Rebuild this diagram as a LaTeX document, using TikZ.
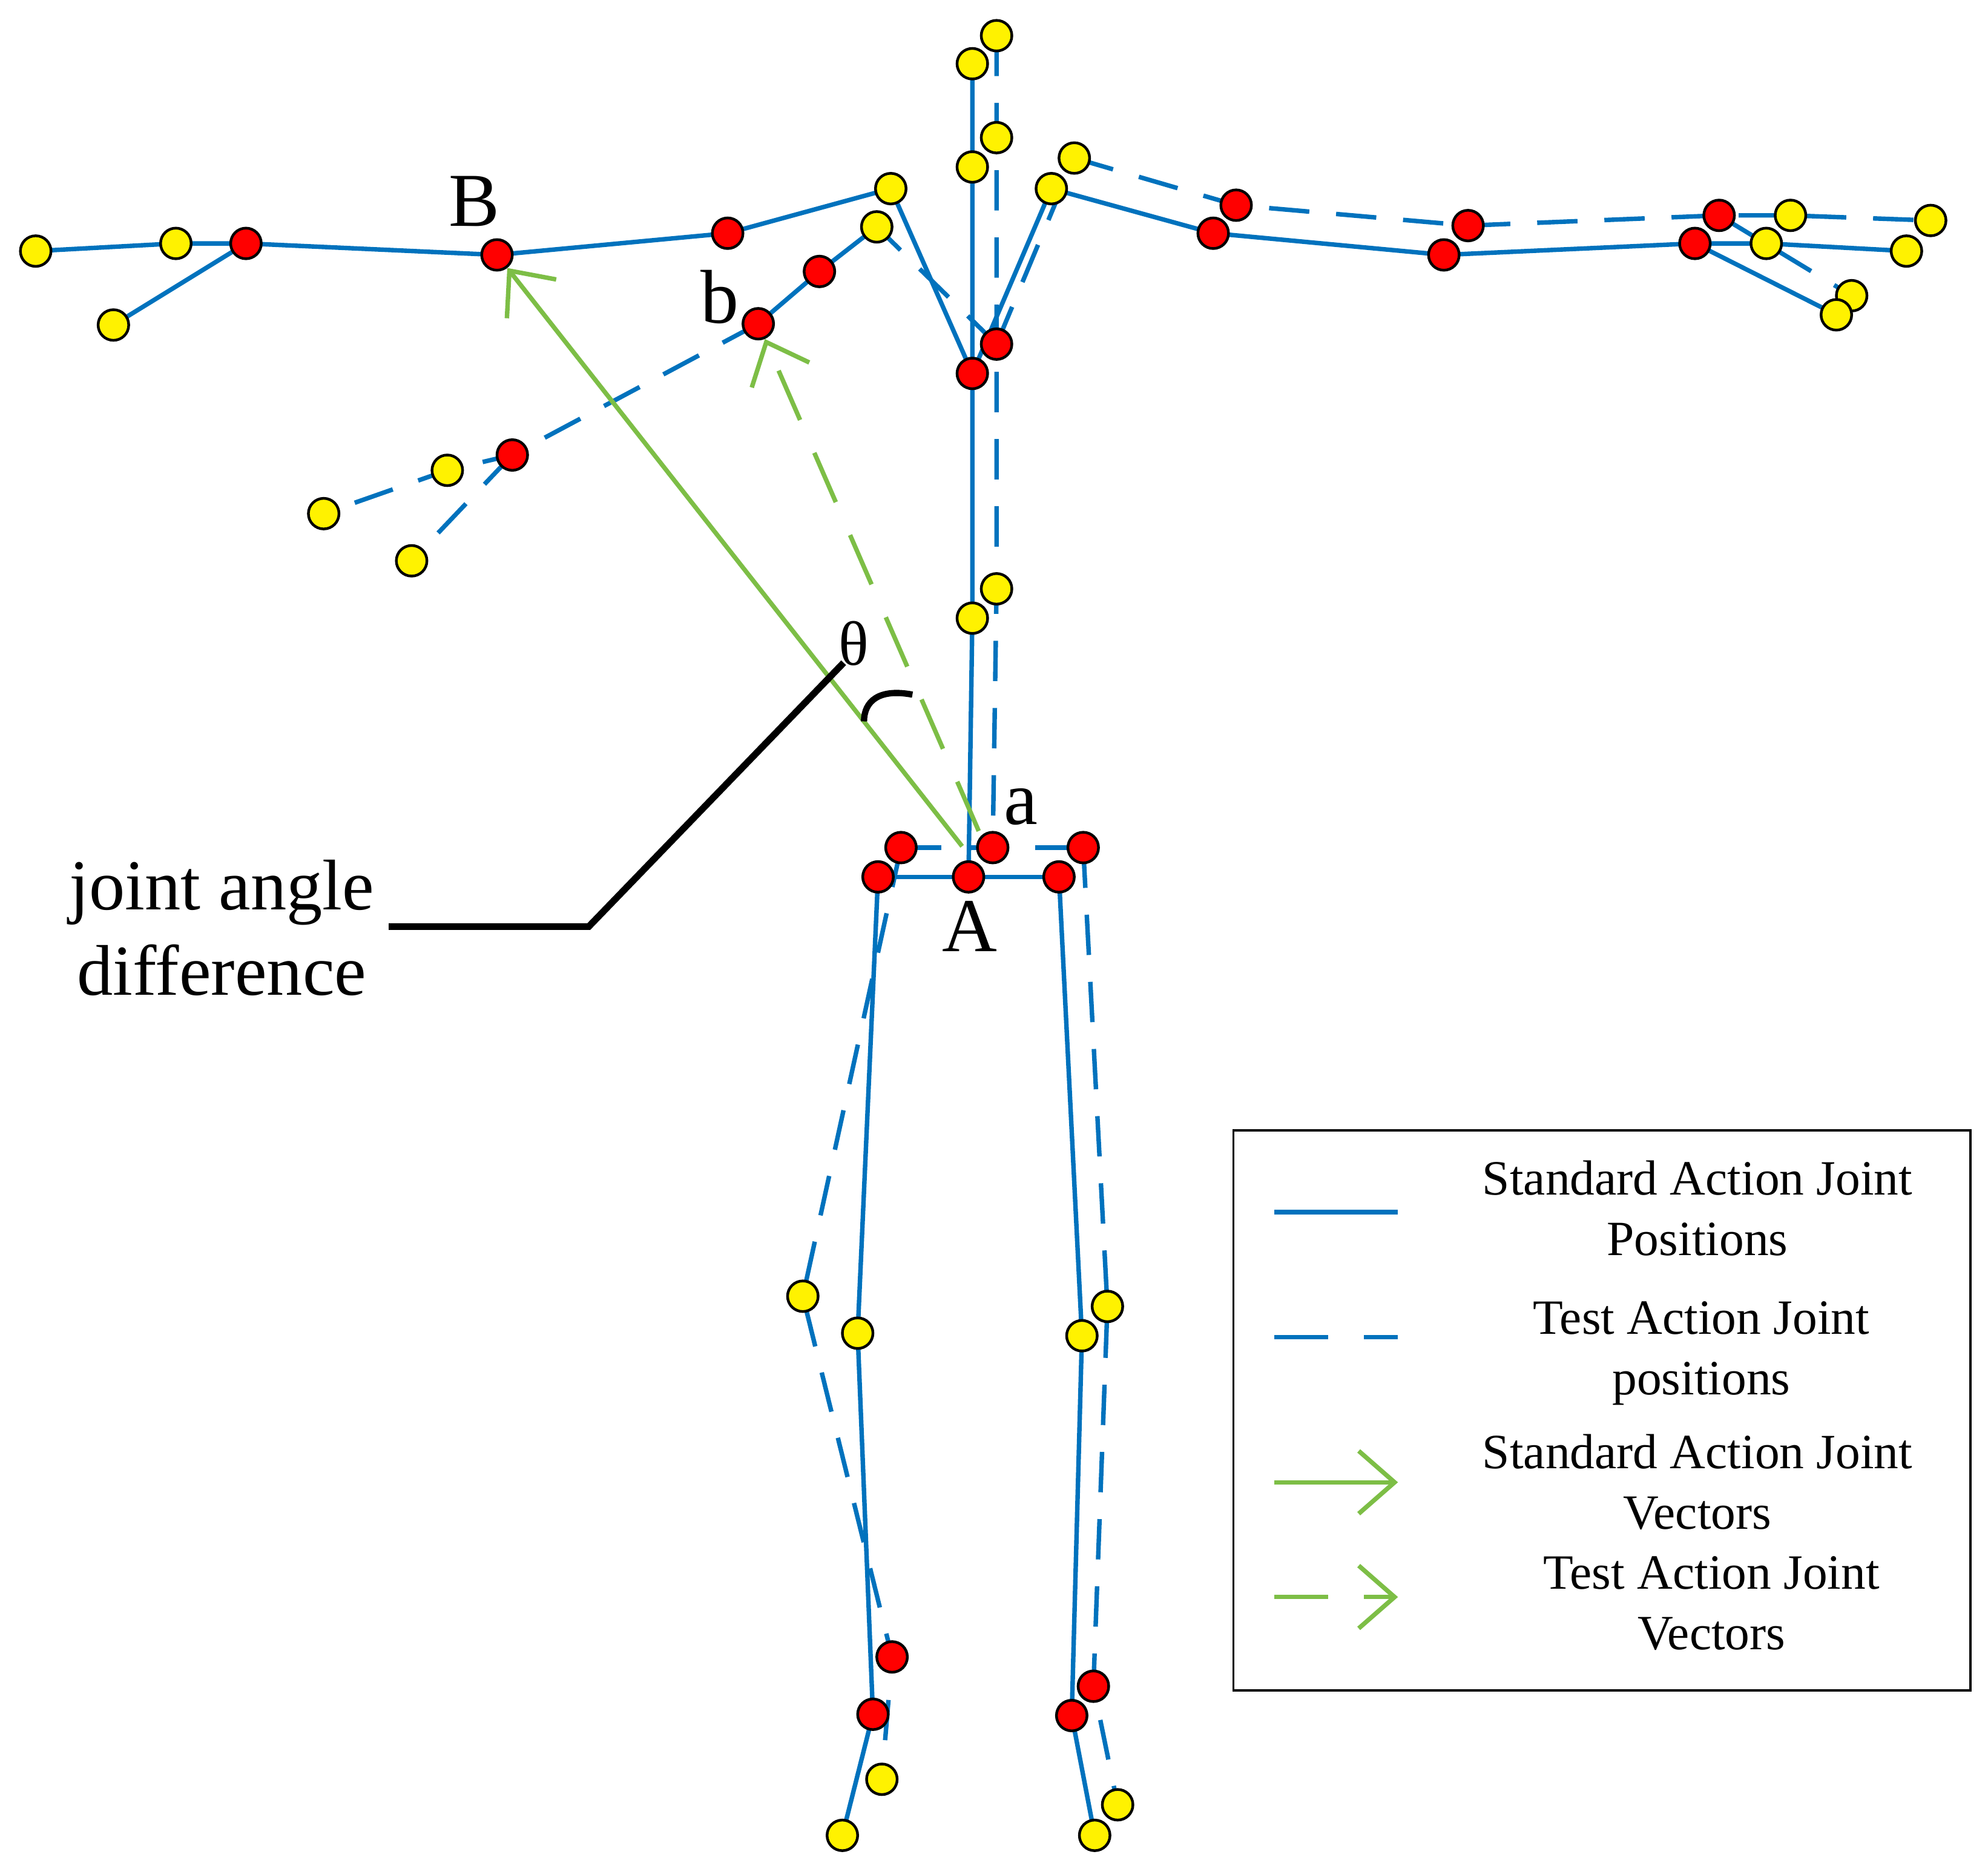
\documentclass[tikz,border=0pt]{standalone}
\usepackage{fontspec}
\setmainfont{Liberation Serif}
\usetikzlibrary{arrows.meta}
\definecolor{bl}{RGB}{0,114,189}
\definecolor{gr}{RGB}{125,190,70}
\begin{document}
\begin{tikzpicture}[x=0.01cm,y=-0.01cm,
 std/.style={bl,line width=1.0pt},
 tst/.style={bl,line width=1.0pt,dash pattern=on 9pt off 6pt},
 rj/.style={circle,draw=black,fill=red,line width=0.6pt,minimum size=0.24cm,inner sep=0},
 yj/.style={circle,draw=black,fill=yellow,line width=0.6pt,minimum size=0.24cm,inner sep=0},
 vec/.style={gr,line width=1.0pt,-{Straight Barb[length=8pt,width=14pt,line width=1pt]}},
 lbl/.style={font=\fontsize{17}{19}\selectfont},
 leg/.style={font=\fontsize{11}{13.5}\selectfont,align=center}]
\useasboundingbox (0,0) rectangle (1560,1464);
\foreach \n/\x/\y in {A/760/688,Ssm/763/485,Sss/763/293,Snk/763/131,Shd/763/50,
 Slh/689/688,Srh/831/688,Slk/673/1046,Sla/685/1345,Slf/661/1440,
 Srk/849/1048,Sra/841/1346,Srf/859/1440,
 Sls/699/148,Sle/571/183,B/390/200,Slhd/193/191,Slt1/138/191,Slt/28/197,Slth/89/255,
 Srs/825/148,Sre/952/183,Srw/1133/200,Srhd/1330/191,Srt1/1386/191,Srt/1496/197,Srth/1441/247}
 {\coordinate (\n) at (\x,\y);}
\foreach \n/\x/\y in {a/779/665,Tsm/782/462,Tss/782/270,Tnk/782/108,Thd/782/28,
 Tlh/707/665,Trh/850/665,Tlk/630/1017,Tla/700/1300,Tlf/692/1396,
 Trk/869/1025,Tra/858/1323,Trf/877/1416,
 Tls/688/178,Tle/643/213,b/595/254,Tlhd/402/357,Tlt1/351/369,Tlt/254/403,Tlth/323/440,
 Trs/843/124,Tre/970/161,Trw/1152/177,Trhd/1349/169,Trt1/1405/169,Trt/1515/173,Trth/1453/232}
 {\coordinate (\n) at (\x,\y);}
\draw[tst] (Thd)--(Tnk)--(Tss)--(Tsm)--(a);
\draw[tst] (Tlh)--(Trh);
\draw[tst] (Tlh)--(Tlk)--(Tla)--(Tlf);
\draw[tst] (Trh)--(Trk)--(Tra)--(Trf);
\draw[tst] (Tss)--(Tls);
\draw[std] (Tls)--(Tle)--(b);
\draw[tst] (b)--(Tlhd)--(Tlt1)--(Tlt);
\draw[tst] (Tlhd)--(Tlth);
\draw[tst] (Tss)--(Trs)--(Tre)--(Trw)--(Trhd)--(Trt1)--(Trt);
\draw[tst] (Trhd)--(Trth);
\draw[std] (Shd)--(Snk)--(Sss)--(Ssm)--(A);
\draw[std] (Slh)--(Srh);
\draw[std] (Slh)--(Slk)--(Sla)--(Slf);
\draw[std] (Srh)--(Srk)--(Sra)--(Srf);
\draw[std] (Sss)--(Sls)--(Sle)--(B)--(Slhd)--(Slt1)--(Slt);
\draw[std] (Slhd)--(Slth);
\draw[std] (Sss)--(Srs)--(Sre)--(Srw)--(Srhd)--(Srt1)--(Srt);
\draw[std] (Srhd)--(Srth);
\foreach \c in {Thd,Tnk,Tsm,Tlk,Tlf,Trk,Trf,Tls,Tlt1,Tlt,Tlth,Trs,Trt1,Trt,Trth,
 Shd,Snk,Ssm,Slk,Slf,Srk,Srf,Sls,Slt1,Slt,Slth,Srs,Srt1,Srt,Srth}
 \node[yj] (j\c) at (\c) {};
\foreach \c in {a,Tss,Tlh,Trh,Tla,Tra,Tle,b,Tlhd,Tre,Trw,Trhd,
 A,Sss,Slh,Srh,Sla,Sra,Sle,B,Slhd,Sre,Srw,Srhd}
 \node[rj] (j\c) at (\c) {};
\coordinate (As) at (755,664);
\coordinate (as) at (768,652);
\draw[vec] (As)--(jB);
\draw[vec,dash pattern=on 12pt off 8pt] (as)--(jb);
\draw[black,line width=1.4pt] (716,545) .. controls (690,540) and (678,550) .. (678,566);
\node[font=\fontsize{14}{16}\selectfont] (th) at (670,505) {θ};
\coordinate (c1) at (305,727);
\coordinate (c2) at (462,727);
\coordinate (c3) at (662,520);
\draw[black,line width=1.5pt] (c1)--(c2)--(c3);
\node[lbl] (lB) at (372,158) {B};
\node[lbl] (lb) at (565,233) {b};
\node[lbl] (la) at (801,633) {a};
\node[lbl] (lA) at (761,727) {A};
\node[font=\fontsize{16}{19}\selectfont,align=center] (jad) at (174,728) {joint angle\\difference};
\node[draw=black,line width=0.5pt,minimum width=5.78cm,minimum height=4.39cm,anchor=north west,inner sep=0] (leg) at (967,886) {};
\coordinate (l1a) at (1000,951); \coordinate (l1b) at (1097,951);
\coordinate (l2a) at (1000,1049); \coordinate (l2b) at (1097,1049);
\coordinate (l3a) at (1000,1163); \coordinate (l3b) at (1097,1163);
\coordinate (l4a) at (1000,1253); \coordinate (l4b) at (1097,1253);
\draw[std] (l1a)--(l1b);
\draw[tst,dash pattern=on 12pt off 8pt] (l2a)--(l2b);
\draw[vec] (l3a)--(l3b);
\draw[vec,dash pattern=on 12pt off 8pt] (l4a)--(l4b);
\node[leg] (t1) at (1332,948) {Standard Action Joint\\Positions};
\node[leg] (t2) at (1335,1062) {Test Action Joint\\positions};
\node[leg] (t3) at (1332,1163) {Standard Action Joint\\Vectors};
\node[leg] (t4) at (1343,1258) {Test Action Joint\\Vectors};
\end{tikzpicture}
\end{document}
